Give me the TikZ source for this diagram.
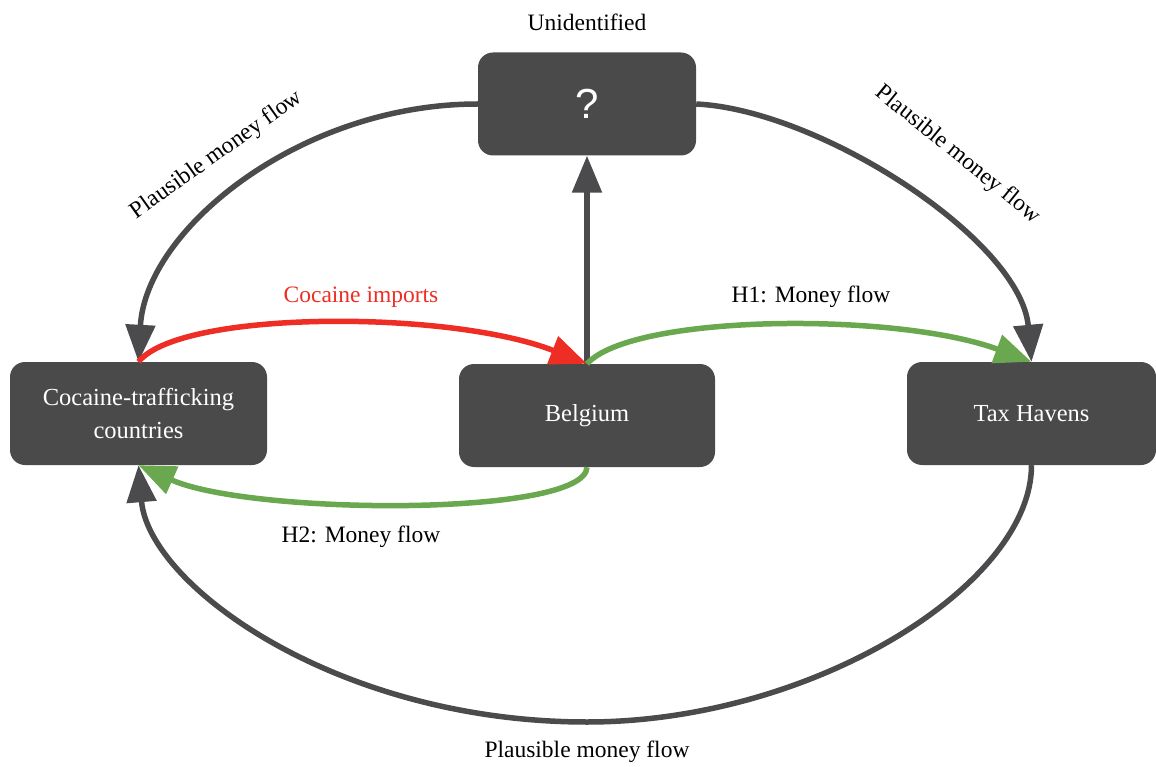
\documentclass[tikz,border=0pt]{standalone}
\usepackage{fontspec}
\setmainfont{Liberation Serif}
\newfontfamily\qfont{Liberation Sans}
\usetikzlibrary{arrows.meta}
\definecolor{boxgray}{HTML}{4A4A4A}
\definecolor{linegray}{HTML}{4B4B4D}
\definecolor{cocred}{HTML}{EE2E24}
\definecolor{flowgreen}{HTML}{6AA84F}
\begin{document}
\begin{tikzpicture}[x=1pt,y=-1pt,
  darkbox/.style={fill=boxgray, rounded corners=15pt, minimum height=103pt,
    inner sep=0pt, text=white, font=\fontsize{24.5}{33}\selectfont, align=center},
  flow/.style={line width=5.5pt, -{Triangle[length=37pt,width=29pt]}},
  grayflow/.style={flow, draw=linegray},
  redflow/.style={flow, draw=cocred},
  greenflow/.style={flow, draw=flowgreen},
  lbl/.style={font=\fontsize{23.5}{26}\selectfont, inner sep=0pt}
]
\useasboundingbox (0,0) rectangle (1156,767);
\fill[white] (0,0) rectangle (1156,767);

% boxes
\node[darkbox, minimum width=218pt] (q) at (587,104) {\qfont\fontsize{42}{42}\selectfont ?};
\node[darkbox, minimum width=257pt] (cc) at (138.5,413.5) {Cocaine-trafficking\\countries};
\node[darkbox, minimum width=256pt] (be) at (587,415.5) {Belgium};
\node[darkbox, minimum width=249pt] (th) at (1031.5,413.5) {Tax Havens};
\coordinate (bot) at (587,722);

% connectors
\draw[grayflow] (be.north) -- (q.south);
\draw[grayflow] (q.west) .. controls +(-178,0) and +(7,-132) .. (cc.north);
\draw[grayflow] (q.east) .. controls +(124,6) and +(-11,-122) .. (th.north);
\draw[grayflow] (th.south) .. controls +(0,120) and +(225,0) .. (bot)
                 .. controls +(-250,0) and +(10,120) .. (cc.south);
\draw[redflow] (cc.north) .. controls +(42,-52) and +(-137,-54) .. (be.north);
\draw[greenflow] (be.north) .. controls +(45,-50) and +(-135,-50) .. (th.north);
\draw[greenflow] (be.south) .. controls +(-2,50) and +(112,50) .. (cc.south);

% labels
\node[lbl] (unid) at (587,22) {Unidentified};
\node[lbl, rotate=35.5] (pl1) at (217,155) {Plausible money flow};
\node[lbl, rotate=-39] (pl2) at (958,155) {Plausible money flow};
\node[lbl, text=cocred] (ci) at (361,297) {Cocaine imports};
\node[lbl] (h1) at (811,297) {H1: Money flow};
\node[lbl] (h2) at (361,537) {H2: Money flow};
\node[lbl] (pl3) at (587,752) {Plausible money flow};
\end{tikzpicture}
\end{document}
